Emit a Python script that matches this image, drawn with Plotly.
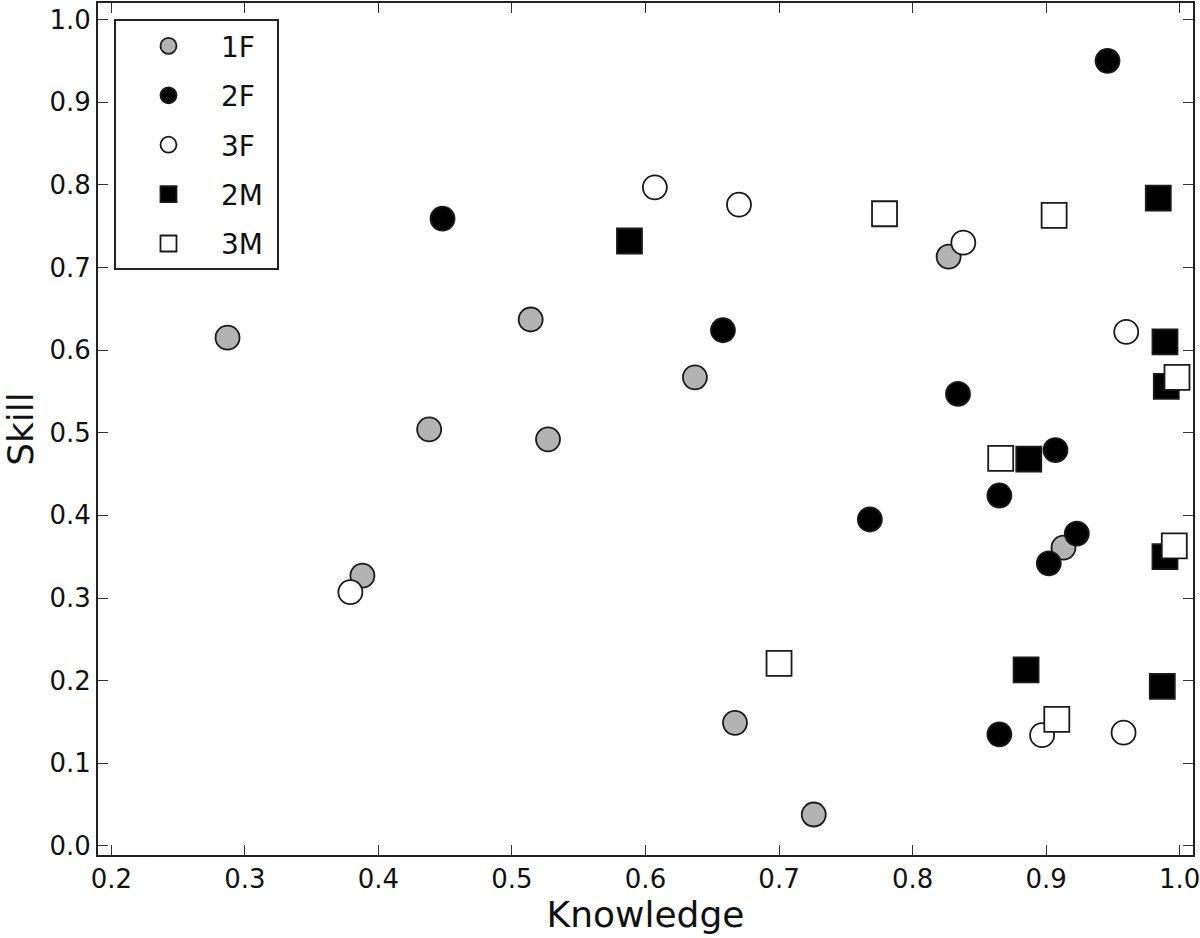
import plotly.graph_objects as go

# Knowledge (x) / Skill (y) per group
f1_knowledge = [0.287, 0.388, 0.438, 0.514, 0.527, 0.637, 0.667, 0.726, 0.827, 0.913]
f1_skill = [0.615, 0.327, 0.504, 0.637, 0.492, 0.567, 0.149, 0.038, 0.713, 0.361]

f2_knowledge = [0.448, 0.658, 0.768, 0.834, 0.865, 0.907, 0.923, 0.902, 0.865, 0.946]
f2_skill = [0.759, 0.624, 0.395, 0.547, 0.424, 0.479, 0.378, 0.342, 0.135, 0.950]

f3_knowledge = [0.607, 0.670, 0.838, 0.960, 0.379, 0.897, 0.958]
f3_skill = [0.797, 0.776, 0.730, 0.622, 0.307, 0.134, 0.137]

m2_knowledge = [0.588, 0.984, 0.989, 0.990, 0.887, 0.989, 0.885, 0.987]
m2_skill = [0.732, 0.784, 0.610, 0.556, 0.468, 0.350, 0.213, 0.193]

m3_knowledge = [0.779, 0.906, 0.998, 0.866, 0.996, 0.700, 0.908]
m3_skill = [0.765, 0.763, 0.567, 0.469, 0.363, 0.221, 0.153]

groups = [
    ("1F", f1_knowledge, f1_skill, "circle", "#b3b3b3"),
    ("2F", f2_knowledge, f2_skill, "circle", "#000000"),
    ("3F", f3_knowledge, f3_skill, "circle", "#ffffff"),
    ("2M", m2_knowledge, m2_skill, "square", "#000000"),
    ("3M", m3_knowledge, m3_skill, "square", "#ffffff"),
]

FONT = "DejaVu Sans"

fig = go.Figure()
for name, xs, ys, symbol, fill in groups:
    fig.add_trace(go.Scatter(
        x=xs, y=ys, mode="markers", name=name + "\u00a0", legendgroup=name,
        marker=dict(symbol=symbol, color=fill,
                    size=24 if symbol == "circle" else 25,
                    line=dict(color="#1a1a1a", width=1.8)),
    ))

axis_common = dict(
    showgrid=False, zeroline=False, automargin=False,
    showline=True, linecolor="#222222", linewidth=2, mirror="ticks",
    ticks="inside", ticklen=10, tickwidth=1.3, tickcolor="#333333",
    tickfont=dict(family=FONT, size=26, color="#111111"),
    ticklabeloverflow="allow",
    dtick=0.1, tickformat=".1f",
)

fig.update_xaxes(range=[0.19, 1.01], tick0=0.2,
                 title=dict(text="Knowledge", font=dict(family=FONT, size=36, color="#111111"),
                            standoff=0),
                 **axis_common)
fig.update_yaxes(range=[-0.011, 1.02], tick0=0.0,
                 title=dict(text="Skill", font=dict(family=FONT, size=36, color="#111111"),
                            standoff=20),
                 **axis_common)

fig.update_layout(
    width=1200, height=938,
    margin=dict(l=98, r=7, t=3, b=83),
    plot_bgcolor="white", paper_bgcolor="white",
    showlegend=True,
    legend=dict(
        x=0.0146, y=0.981, xanchor="left", yanchor="top",
        bgcolor="white", bordercolor="#222222", borderwidth=2,
        font=dict(family=FONT, size=28, color="#111111"),
        traceorder="grouped", tracegroupgap=10,
        itemwidth=95,
    ),
)

# the page body has a default 8px margin; drop it so the figure fills the window
fig.write_html("out.html", config={"displayModeBar": False},
               post_script="document.body.style.margin = '0';")
